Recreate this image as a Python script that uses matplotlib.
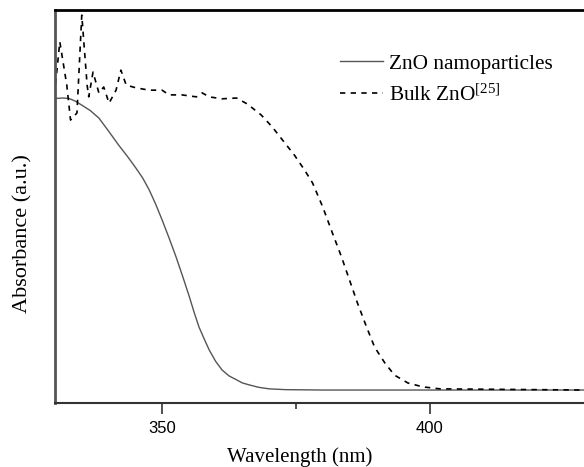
import matplotlib
matplotlib.use('Agg')
import matplotlib.pyplot as plt
import numpy as np

# ZnO nanoparticles (solid line): wavelength (nm), absorbance (a.u.)
nano_wl = [330.1, 331.5, 332.6, 333.8, 335.0, 336.6, 338.2, 340.0, 341.9, 343.5,
           345.1, 346.4, 347.6, 348.8, 350.0, 351.3, 352.6, 353.9, 355.1, 356.0,
           356.9, 357.9, 358.8, 360.0, 361.2, 362.5, 363.9, 365.0, 366.3, 368.0,
           370.0, 373.0, 380.0, 400.0, 428.8]
nano_abs = [0.775, 0.776, 0.775, 0.768, 0.758, 0.744, 0.725, 0.692, 0.656, 0.628,
            0.598, 0.572, 0.542, 0.506, 0.466, 0.420, 0.372, 0.320, 0.270, 0.230,
            0.193, 0.162, 0.135, 0.106, 0.084, 0.069, 0.059, 0.051, 0.046, 0.040,
            0.036, 0.034, 0.033, 0.033, 0.033]

# Bulk ZnO [25] (dashed line)
bulk_wl = [330.1, 330.9, 332.2, 332.9, 334.1, 335.0, 336.0, 336.3, 337.1, 338.2,
           339.1, 340.1, 341.4, 342.3, 343.3, 345.1, 347.6, 350.0, 351.3, 353.7,
           356.4, 357.5, 358.8, 361.2, 363.9, 365.9, 368.5, 370.6, 372.5, 374.7,
           376.6, 378.1, 380.0, 381.8, 383.5, 385.0, 386.5, 388.2, 389.7, 391.6,
           393.4, 395.9, 398.7, 401.9, 428.8]
bulk_abs = [0.812, 0.919, 0.809, 0.720, 0.738, 0.987, 0.809, 0.779, 0.842, 0.789,
            0.804, 0.763, 0.796, 0.847, 0.809, 0.802, 0.796, 0.796, 0.784, 0.784,
            0.779, 0.789, 0.779, 0.774, 0.776, 0.761, 0.733, 0.702, 0.669, 0.631,
            0.593, 0.560, 0.499, 0.433, 0.372, 0.313, 0.254, 0.193, 0.142, 0.102,
            0.071, 0.051, 0.041, 0.036, 0.033]

fig = plt.figure(figsize=(5.84, 4.67), dpi=100)
ax = fig.add_axes([55 / 584, 1 - 403 / 467, 1 - 55 / 584, (403 - 10) / 467])

ax.plot(nano_wl, nano_abs, color='#555555', linewidth=1.0, label='ZnO namoparticles')
ax.plot(bulk_wl, bulk_abs, color='black', linewidth=1.2, linestyle=(0, (3.2, 3.2)),
        label='Bulk ZnO$\\mathregular{^{[25]}}$')

ax.set_xlim(330, 428.8)
ax.set_ylim(0, 1)
ax.set_xticks([350, 400])
ax.set_xticks([375], minor=True)
ax.set_yticks([])
ax.tick_params(axis='x', which='major', direction='out', length=8, width=1.2,
               labelsize=12, pad=5, color='#333333')
ax.tick_params(axis='x', which='minor', direction='out', length=4, width=1.2,
               color='#333333')
for lab in ax.get_xticklabels():
    lab.set_fontfamily('Liberation Sans')

ax.spines['right'].set_visible(False)
ax.spines['top'].set_linewidth(2)
ax.spines['left'].set_linewidth(2)
ax.spines['left'].set_color('#555555')
ax.spines['bottom'].set_linewidth(1.5)
ax.spines['bottom'].set_color('#333333')

ax.set_xlabel('Wavelength (nm)', fontfamily='Liberation Serif', fontsize=15,
              va='center')
ax.set_ylabel('Absorbance (a.u.)', fontfamily='Liberation Serif', fontsize=16,
              va='center')
ax.xaxis.set_label_coords(300 / 584, 457 / 467, transform=fig.transFigure)
ax.xaxis.label.set_position((300 / 584, 1 - 457 / 467))
ax.yaxis.set_label_coords(23 / 584, 1 - 234 / 467, transform=fig.transFigure)

ax.legend(loc='upper left', bbox_to_anchor=(340 / 584, 1 - 54 / 467),
          bbox_transform=fig.transFigure, frameon=False, borderpad=0,
          borderaxespad=0, handlelength=2.0, handletextpad=0.3, labelspacing=0.5,
          prop={'family': 'Liberation Serif', 'size': 15.3})

fig.savefig('out.png', dpi=100)
